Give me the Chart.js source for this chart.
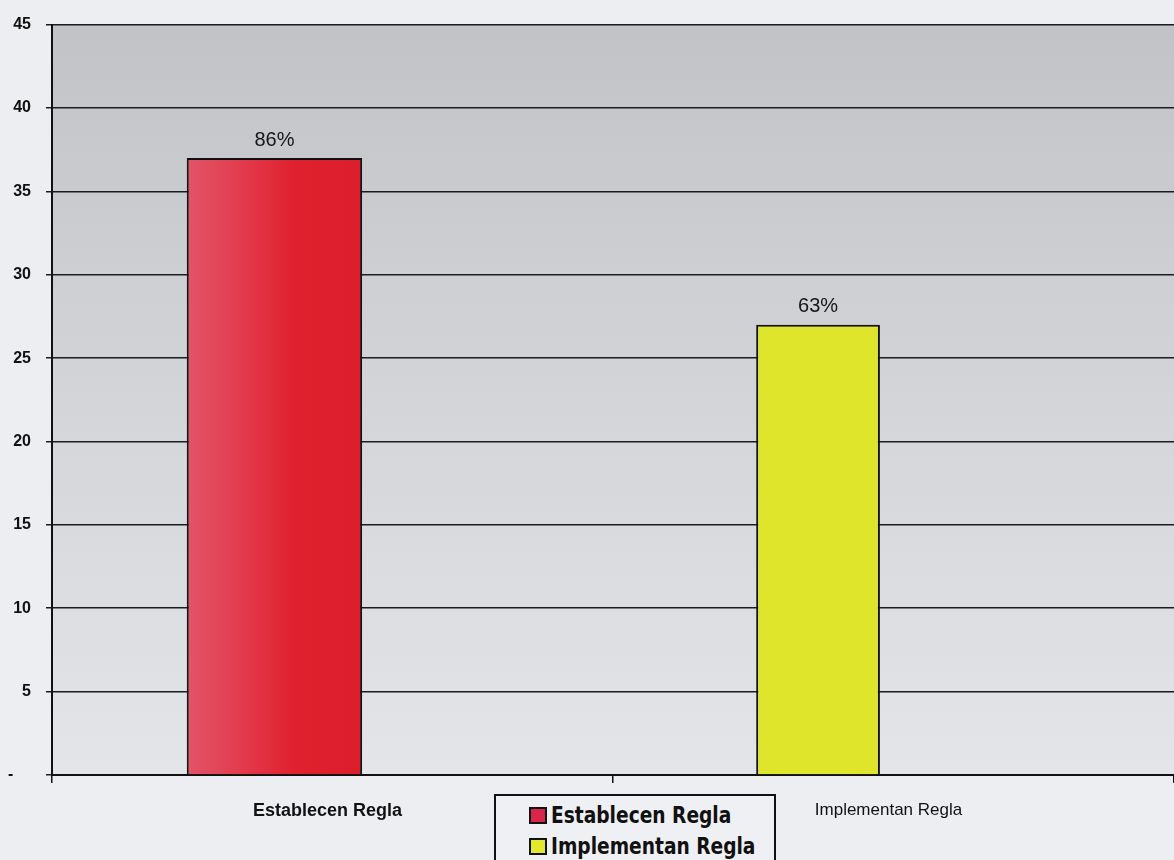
<!DOCTYPE html>
<html lang="es">
<head>
<meta charset="utf-8">
<title>Establecen / Implementan Regla</title>
<script src="https://cdn.jsdelivr.net/npm/chart.js@4.4.1/dist/chart.umd.min.js"></script>
<style>
  html, body { margin: 0; padding: 0; background: #eceef2; overflow: hidden; }
  #wrap { position: relative; width: 1174px; height: 860px; }
  #leyenda {
    position: absolute; left: 494px; top: 794px; width: 282px; height: 90px;
    box-sizing: border-box; border: 2px solid #111; background: #eef0f3;
    padding: 4px 0 0 33px; color: #111;
    font: bold 23px "DejaVu Sans Condensed", "Liberation Sans", sans-serif;
  }
  #leyenda .item { height: 31px; line-height: 31px; white-space: nowrap; }
  #leyenda .caja {
    display: inline-block; width: 14px; height: 13px; margin-right: 4px;
    border: 2px solid #111; vertical-align: -1px;
  }
  #leyenda .texto { display: inline-block; transform: scaleX(0.9); transform-origin: left center; }
</style>
</head>
<body>
<div id="wrap">
  <canvas id="grafico" width="1174" height="860"></canvas>
  <div id="leyenda"></div>
</div>
<script>
const categorias = ['Establecen Regla', 'Implementan Regla'];
const establecen = [37, null];
const implementan = [null, 27];
const encuestados = 43;

const colorEstablecen = '#d9244c';
const colorImplementan = '#e2e82e';

Chart.defaults.font.family = '"Liberation Sans", Arial, sans-serif';
Chart.defaults.color = '#111';

// grey backdrop behind the bars, darker towards the top
const fondoArea = {
  id: 'fondoArea',
  beforeDraw(chart) {
    const {ctx, chartArea: a} = chart;
    const g = ctx.createLinearGradient(0, a.top, 0, a.bottom);
    g.addColorStop(0, '#c2c3c7');
    g.addColorStop(0.45, '#d2d3d7');
    g.addColorStop(1, '#e4e5e9');
    ctx.save();
    ctx.fillStyle = g;
    ctx.fillRect(a.left, a.top, a.right - a.left, a.bottom - a.top);
    ctx.restore();
  }
};

// percentage of respondents above each bar
const porcentajes = {
  id: 'porcentajes',
  afterDatasetsDraw(chart) {
    const {ctx} = chart;
    ctx.save();
    ctx.font = '20px "Liberation Sans", Arial, sans-serif';
    ctx.fillStyle = '#161616';
    ctx.textAlign = 'center';
    ctx.textBaseline = 'bottom';
    chart.data.datasets.forEach((ds, i) => {
      chart.getDatasetMeta(i).data.forEach((bar, j) => {
        const v = ds.data[j];
        if (v == null) return;
        ctx.fillText(Math.round(v / encuestados * 100) + '%', bar.x, bar.y - 8);
      });
    });
    ctx.restore();
  }
};

// lighter, speckled-looking left side fading into solid red
function rojoTexturado(c) {
  const chart = c.chart;
  const meta = chart.getDatasetMeta(c.datasetIndex);
  const bar = meta.data[0];
  if (!bar || !bar.width) return '#df2232';
  const x0 = bar.x - bar.width / 2;
  const g = chart.ctx.createLinearGradient(x0, 0, x0 + bar.width, 0);
  g.addColorStop(0, '#e25468');
  g.addColorStop(0.35, '#e2384a');
  g.addColorStop(0.6, '#e0222f');
  g.addColorStop(1, '#dc1d2b');
  return g;
}

const chart = new Chart(document.getElementById('grafico'), {
  type: 'bar',
  data: {
    labels: categorias,
    datasets: [
      {
        label: 'Establecen Regla',
        data: establecen,
        stack: 'serie',
        backgroundColor: '#df2232',
        borderColor: '#111',
        borderWidth: 2,
        categoryPercentage: 0.414,
        barPercentage: 1.51,
        legendColor: colorEstablecen
      },
      {
        label: 'Implementan Regla',
        data: implementan,
        stack: 'serie',
        backgroundColor: '#dfe52b',
        borderColor: '#111',
        borderWidth: 2,
        categoryPercentage: 0.538,
        barPercentage: 0.82,
        legendColor: colorImplementan
      },
      // empty series: keeps a second slot in each group so the bars sit left of centre
      { label: '', data: [], stack: 'hueco' }
    ]
  },
  options: {
    responsive: false,
    animation: false,
    layout: { padding: { top: 14, right: 0, left: 0, bottom: 0 } },
    plugins: {
      legend: { display: false },
      tooltip: { enabled: false }
    },
    scales: {
      y: {
        min: 0,
        max: 45,
        stacked: false,
        ticks: {
          stepSize: 5,
          padding: 15,
          font: { size: 16, weight: 'bold' },
          callback: v => v === 0 ? '-    ' : v
        },
        grid: { color: '#1c1c1c', lineWidth: 1.5, tickLength: 6 },
        border: { color: '#111', width: 2 },
        afterFit(s) { s.width = 52; }
      },
      x: {
        ticks: {
          padding: 17,
          labelOffset: -5,
          maxRotation: 0,
          font: c => c.index === 0 ? { size: 18, weight: 'bold' } : { size: 17, weight: 'normal' }
        },
        grid: { drawOnChartArea: false, color: '#111', lineWidth: 1.5, tickLength: 8 },
        border: { color: '#111', width: 2 },
        afterFit(s) { s.height = 85; }
      }
    }
  },
  plugins: [fondoArea, porcentajes]
});

// the gradient needs the bar's final position, so apply it after the first layout
chart.data.datasets[0].backgroundColor = rojoTexturado;
chart.update('none');

// legend box, one row per series
const leyenda = document.getElementById('leyenda');
chart.data.datasets.filter(ds => ds.label).forEach(ds => {
  const fila = document.createElement('div');
  fila.className = 'item';
  const caja = document.createElement('span');
  caja.className = 'caja';
  caja.style.background = ds.legendColor;
  const texto = document.createElement('span');
  texto.className = 'texto';
  texto.textContent = ds.label;
  fila.appendChild(caja);
  fila.appendChild(texto);
  leyenda.appendChild(fila);
});
</script>
</body>
</html>
